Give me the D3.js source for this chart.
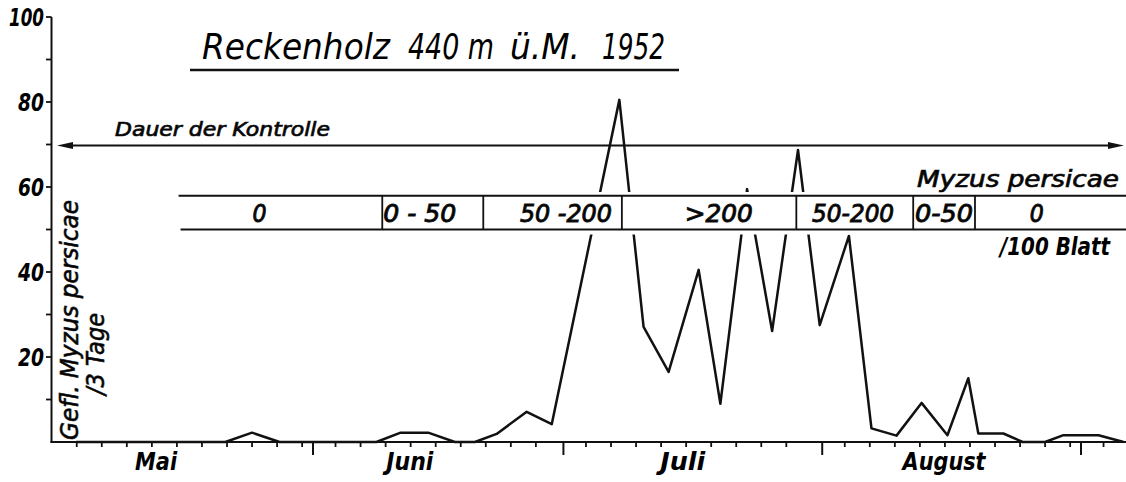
<!DOCTYPE html>
<html>
<head>
<meta charset="utf-8">
<script src="https://cdn.jsdelivr.net/npm/d3@7"></script>
<style>
  html, body { margin: 0; padding: 0; background: #fff; }
  svg { display: block; }
  text { font-family: "DejaVu Sans Condensed", "DejaVu Sans", sans-serif; font-style: italic; fill: #000; }
</style>
</head>
<body>
<svg id="chart" width="1126" height="482"></svg>
<script>
// ---- data ----
// days counted from the start of 1 May 1952
const sampleDays = [2.6, 5.6, 8.6, 11.6, 14.6, 17.6, 20.5, 23.7, 27.0, 29.6, 32.6, 35.6, 38.6, 41.5, 44.8, 48.0,
  50.4, 53.0, 56.6, 59.6, 67.7, 70.6, 73.6, 77.2, 79.8, 83.0, 86.0, 89.1, 91.7, 95.2, 97.9, 100.9, 103.9, 107.0,
  109.5, 110.7, 113.7, 116.0, 118.7, 120.9, 125.1, 128.1];
const aphidCounts = [0, 0, 0, 0, 0, 0, 0, 2.2, 0, 0, 0, 0, 0, 2.2, 2.2, 0, 0, 1.9, 7.1, 4.2, 80.5, 27.1, 16.5, 40.5,
  9, 59.5, 26.1, 68.7, 27.5, 48.5, 3.2, 1.5, 9.2, 1.6, 15, 2, 2, 0, 0, 1.6, 1.6, 0];

const monthStartDays = [0, 31, 61, 92, 123];
const minorTickCounts = [10, 9, 9, 10, 1];
const monthNames = ["Mai", "Juni", "Juli", "August"];
const monthLabelDays = [12.2, 42.6, 75.3, 106.6];

const yMajorTicks = [20, 40, 60, 80, 100];
const yMinorTicks = [10, 30, 50, 70, 90];

const bandBoundaryDays = [14.9, 39.3, 51.4, 68.0, 88.9, 102.9, 110.3, 128.4];
const bandLabels = ["0", "0 - 50", "50 -200", ">200", "50-200", "0-50", "0"];
const bandLabelDays = [24.6, 43.8, 61.3, 79.6, 95.7, 106.6, 117.7];
const bandLabelWidths = [14, 73, 92, 68, 82, 58, 14];

const titleParts = ["Reckenholz", "440 m", "ü.M.", "1952"];

// ---- scales ----
const svg = d3.select("#chart");
const x = d3.scaleLinear().domain([0, 123]).range([54.2, 1081]);
const y = d3.scaleLinear().domain([0, 100]).range([442, 17]);

const ink = "#111";

// ---- data line ----
const pts = sampleDays.map((d, i) => [d, aphidCounts[i]]);
svg.append("path")
  .datum(pts)
  .attr("fill", "none")
  .attr("stroke", ink)
  .attr("stroke-width", 2.5)
  .attr("stroke-linejoin", "round")
  .attr("d", d3.line().x(d => x(d[0])).y(d => y(d[1])));

// ---- band (Myzus persicae / 100 Blatt) ----
const bandTop = 195.7, bandBot = 229.5;
const bx0 = x(bandBoundaryDays[0]), bx1 = x(bandBoundaryDays[bandBoundaryDays.length - 1]);
svg.append("rect").attr("x", bx0 - 1).attr("y", bandTop - 3.7).attr("width", bx1 - bx0 + 2)
  .attr("height", bandBot - bandTop + 8.7).attr("fill", "#fff");
svg.append("line").attr("x1", bx0).attr("x2", bx1).attr("y1", bandTop).attr("y2", bandTop)
  .attr("stroke", ink).attr("stroke-width", 2);
svg.append("line").attr("x1", bx0 + 2).attr("x2", bx1).attr("y1", bandBot).attr("y2", bandBot)
  .attr("stroke", ink).attr("stroke-width", 2);
svg.selectAll(".divider").data(bandBoundaryDays.slice(1, -1)).enter().append("line")
  .attr("x1", d => x(d)).attr("x2", d => x(d)).attr("y1", bandTop).attr("y2", bandBot)
  .attr("stroke", ink).attr("stroke-width", 1.8);
svg.selectAll(".bandlabel").data(bandLabels).enter().append("text")
  .attr("x", (d, i) => x(bandLabelDays[i])).attr("y", 221.5)
  .attr("text-anchor", "middle").attr("font-size", 25)
  .attr("stroke", ink).attr("stroke-width", 0.9)
  .attr("textLength", (d, i) => bandLabelWidths[i]).attr("lengthAdjust", "spacingAndGlyphs")
  .text(d => d);

svg.append("text").attr("x", 917).attr("y", 187).attr("font-size", 23)
  .attr("textLength", 202).attr("lengthAdjust", "spacingAndGlyphs")
  .attr("stroke", ink).attr("stroke-width", 0.7)
  .text("Myzus persicae");
svg.append("text").attr("x", 1000).attr("y", 254.5).attr("font-size", 24).attr("font-weight", "bold")
  .attr("textLength", 110).attr("lengthAdjust", "spacingAndGlyphs")
  .text("/100 Blatt");

// ---- "Dauer der Kontrolle" arrow ----
const arrowY = 145.5, ax0 = 57, ax1 = 1124;
svg.append("line").attr("x1", ax0 + 8).attr("x2", ax1 - 8).attr("y1", arrowY).attr("y2", arrowY)
  .attr("stroke", ink).attr("stroke-width", 2);
svg.append("path").attr("d", `M${ax0},${arrowY} L${ax0 + 16},${arrowY - 3.5} L${ax0 + 16},${arrowY + 3.5} Z`).attr("fill", ink);
svg.append("path").attr("d", `M${ax1},${arrowY} L${ax1 - 16},${arrowY - 3.5} L${ax1 - 16},${arrowY + 3.5} Z`).attr("fill", ink);
svg.append("text").attr("x", 115).attr("y", 136).attr("font-size", 20)
  .attr("textLength", 215).attr("lengthAdjust", "spacingAndGlyphs")
  .attr("stroke", ink).attr("stroke-width", 0.7)
  .text("Dauer der Kontrolle");

// ---- title ----
const titleX = [202, 408, 510, 602];
const titleW = [188, 86, 70, 63];
svg.selectAll(".title").data(titleParts).enter().append("text")
  .attr("x", (d, i) => titleX[i]).attr("y", 58.5).attr("font-size", 36)
  .attr("textLength", (d, i) => titleW[i]).attr("lengthAdjust", "spacingAndGlyphs")
  .text(d => d);
svg.append("line").attr("x1", 190).attr("x2", 679).attr("y1", 70).attr("y2", 70)
  .attr("stroke", ink).attr("stroke-width", 2.5);

// ---- axes ----
svg.append("line").attr("x1", 51.5).attr("x2", 51.5).attr("y1", y(100)).attr("y2", y(0) + 1)
  .attr("stroke", ink).attr("stroke-width", 2);
svg.append("line").attr("x1", 50.5).attr("x2", 1126).attr("y1", y(0)).attr("y2", y(0))
  .attr("stroke", ink).attr("stroke-width", 2);

svg.selectAll(".ytick").data(yMajorTicks.concat(yMinorTicks)).enter().append("line")
  .attr("x1", 46).attr("x2", 51.5).attr("y1", d => y(d)).attr("y2", d => y(d))
  .attr("stroke", ink).attr("stroke-width", 1.8);
svg.selectAll(".ylabel").data(yMajorTicks).enter().append("text")
  .attr("x", 44).attr("y", d => y(d) + 8.5).attr("text-anchor", "end")
  .attr("font-size", 24).attr("font-weight", "bold")
  .attr("textLength", d => d === 100 ? 35 : 26).attr("lengthAdjust", "spacingAndGlyphs")
  .text(d => d);

// x ticks
const minorDays = [];
monthStartDays.forEach((s, m) => {
  d3.range(minorTickCounts[m]).forEach(k => minorDays.push(s + 2.7 + 3 * k));
});
svg.selectAll(".xminor").data(minorDays).enter().append("line")
  .attr("x1", d => x(d)).attr("x2", d => x(d)).attr("y1", y(0)).attr("y2", y(0) + 5)
  .attr("stroke", ink).attr("stroke-width", 1.8);
svg.selectAll(".xmajor").data(monthStartDays.slice(1)).enter().append("line")
  .attr("x1", d => x(d)).attr("x2", d => x(d)).attr("y1", y(0)).attr("y2", y(0) + 13)
  .attr("stroke", ink).attr("stroke-width", 2);
svg.selectAll(".month").data(monthNames).enter().append("text")
  .attr("x", (d, i) => x(monthLabelDays[i])).attr("y", 470).attr("text-anchor", "middle")
  .attr("font-size", 25).attr("font-weight", "bold")
  .attr("textLength", (d, i) => [42, 47, 45, 83][i]).attr("lengthAdjust", "spacingAndGlyphs")
  .text(d => d);

// y-axis title
svg.append("text").attr("transform", "translate(78,440) rotate(-90)")
  .attr("font-size", 24).attr("textLength", 240).attr("lengthAdjust", "spacingAndGlyphs")
  .attr("stroke", ink).attr("stroke-width", 0.6)
  .text("Gefl. Myzus persicae");
svg.append("text").attr("transform", "translate(104,395) rotate(-90)")
  .attr("font-size", 24).attr("textLength", 82).attr("lengthAdjust", "spacingAndGlyphs")
  .attr("stroke", ink).attr("stroke-width", 0.6)
  .text("/3 Tage");
</script>
</body>
</html>
